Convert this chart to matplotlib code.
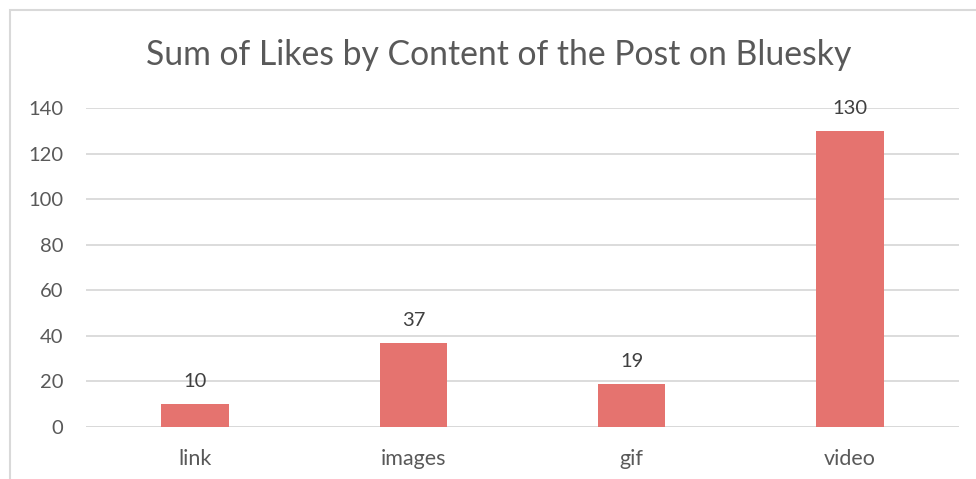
import matplotlib
matplotlib.use("Agg")
import matplotlib.pyplot as plt
from matplotlib.patches import Rectangle

categories = ["link", "images", "gif", "video"]
likes = [10, 37, 19, 130]
yticks = [0, 20, 40, 60, 80, 100, 120, 140]
title = "Sum of Likes by Content of the Post on Bluesky"

plt.rcParams['font.family'] = ['Lato', 'DejaVu Sans']
W, H = 976, 479
fig = plt.figure(figsize=(W / 100, H / 100), dpi=100)
txt = '#595959'
grid = '#D9D9D9'
barc = '#E5736F'

# chart border (extends beyond right/bottom edge)
fig.patches.append(Rectangle((10 / W, -0.1), 2, 1.1 - 10 / H, transform=fig.transFigure,
                             fill=False, edgecolor='#D9D9D9', linewidth=1.5))

ax = fig.add_axes([86 / W, 1 - 427 / H, (959 - 86) / W, (427 - 108) / H])
x = list(range(len(categories)))
bars = ax.bar(x, likes, width=0.31, color=barc, zorder=3)
for xi, v in zip(x, likes):
    ax.text(xi, v + 6.2, str(v), ha='center', va='bottom', fontsize=14.5, color='#404040')

ax.set_xlim(-0.5, len(categories) - 0.5)
ax.set_ylim(0, 140)
ax.set_yticks(yticks)
ax.set_yticklabels([str(t) for t in yticks])
ax.set_xticks(x)
ax.set_xticklabels(categories)
ax.tick_params(axis='y', length=0, pad=16.5, labelsize=14.5, labelcolor=txt)
ax.tick_params(axis='x', length=0, pad=16, labelsize=15.5, labelcolor=txt)
ax.grid(axis='y', color=grid, linewidth=1.3, zorder=0)
for s in ax.spines.values():
    s.set_visible(False)
ax.axhline(0, color=grid, linewidth=1.3, zorder=2)

fig.text(499 / W, 1 - 55 / H, title, ha='center', va='center', fontsize=24.3, color=txt)

fig.savefig("out.png", dpi=100)
